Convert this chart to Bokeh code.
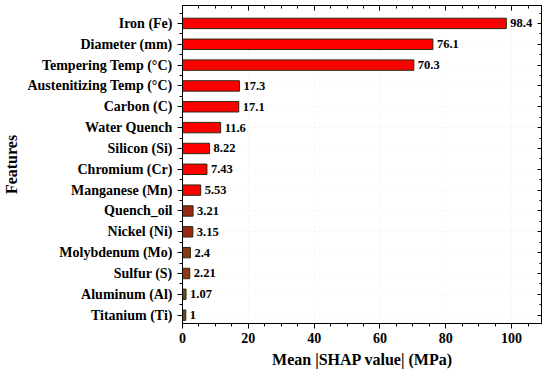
from bokeh.plotting import figure
from bokeh.models import (ColumnDataSource, FixedTicker, LinearAxis, Range1d, LabelSet)
from bokeh.embed import file_html
from bokeh.resources import INLINE

features = ["Iron (Fe)", "Diameter (mm)", "Tempering Temp (°C)", "Austenitizing Temp (°C)",
            "Carbon (C)", "Water Quench", "Silicon (Si)", "Chromium (Cr)", "Manganese (Mn)",
            "Quench_oil", "Nickel (Ni)", "Molybdenum (Mo)", "Sulfur (S)", "Aluminum (Al)",
            "Titanium (Ti)"]
values = [98.4, 76.1, 70.3, 17.3, 17.1, 11.6, 8.22, 7.43, 5.53, 3.21, 3.15, 2.4, 2.21, 1.07, 1]
labels = ["98.4", "76.1", "70.3", "17.3", "17.1", "11.6", "8.22", "7.43", "5.53", "3.21",
          "3.15", "2.4", "2.21", "1.07", "1"]
colors = ["#FF0000"] * 9 + ["#992A12", "#992A12", "#8B3A12", "#8B3A12", "#6E4A14", "#6E4A14"]
x_ticks = [0, 20, 40, 60, 80, 100]

n = len(features)
pos = [n - i for i in range(n)]

src = ColumnDataSource(dict(y=pos, v=values, lab=labels, c=colors, name=features))

FONT = "Liberation Serif"

p = figure(width=542, height=370, output_backend="svg", toolbar_location=None,
           x_range=Range1d(0, 109.4), y_range=Range1d(0.6, n + 0.86),
           min_border_left=180, min_border_right=0, min_border_top=5, min_border_bottom=46,
           x_axis_label="Mean |SHAP value| (MPa)", y_axis_label="Features")

p.outline_line_color = "black"

p.hbar(y="y", right="v", left=0, height=0.5, source=src, fill_color="c",
       line_color="#2A2A10", line_width=1)

lbl = LabelSet(x="v", y="y", text="lab", source=src, x_offset=4, text_baseline="middle",
               text_font=FONT, text_font_style="bold", text_font_size="12.5px", text_color="black")
p.add_layout(lbl)

yt = FixedTicker(ticks=pos, minor_ticks=[k + 0.5 for k in range(0, n + 1)])
p.yaxis.ticker = yt
p.yaxis.major_label_overrides = {pos[i]: features[i] for i in range(n)}
xt = FixedTicker(ticks=x_ticks, minor_ticks=[k * 5 for k in range(0, 23)])
p.xaxis.ticker = xt

for ax in [p.xaxis[0], p.yaxis[0]]:
    ax.axis_line_color = "black"
    ax.axis_line_width = 1
    ax.major_tick_line_color = "black"
    ax.minor_tick_line_color = "black"
    ax.major_tick_in = 0
    ax.major_tick_out = 5
    ax.minor_tick_in = 0
    ax.minor_tick_out = 3
    ax.major_label_text_font = FONT
    ax.major_label_text_font_style = "bold"
    ax.major_label_text_color = "black"
    ax.axis_label_text_font = FONT
    ax.axis_label_text_font_style = "bold"
    ax.axis_label_text_font_size = "16px"
    ax.axis_label_text_color = "black"

p.yaxis.major_label_text_font_size = "14px"
p.xaxis.major_label_text_font_size = "14px"
p.yaxis.major_label_standoff = 5
p.yaxis.axis_label_standoff = 4
p.xaxis.major_label_standoff = 4
p.xaxis.axis_label_standoff = 5

right = LinearAxis(ticker=yt, major_label_text_font_size="0px", axis_line_color="black",
                   major_label_standoff=0, axis_label_standoff=0,
                   major_tick_in=5, major_tick_out=0, minor_tick_in=3, minor_tick_out=0)
top = LinearAxis(ticker=xt, major_label_text_font_size="0px", axis_line_color="black",
                 major_label_standoff=0, axis_label_standoff=0,
                 major_tick_in=5, major_tick_out=0, minor_tick_in=3, minor_tick_out=0)
right.major_label_overrides = {k: "" for k in pos}
top.major_label_overrides = {k: "" for k in x_ticks}
p.add_layout(right, "right")
p.add_layout(top, "above")

p.xgrid.ticker = xt
p.ygrid.ticker = yt
p.xgrid.grid_line_color = "#F4F4F4"
p.ygrid.grid_line_color = "#F4F4F4"
p.xgrid.grid_line_dash = "2 2"
p.ygrid.grid_line_dash = "2 2"

open("out.html", "w").write(file_html(p, INLINE))
